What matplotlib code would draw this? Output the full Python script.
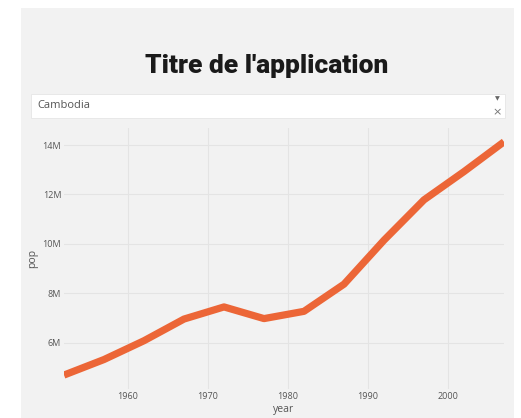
import matplotlib
matplotlib.use("Agg")
import matplotlib.pyplot as plt
from matplotlib.patches import Rectangle
from matplotlib.ticker import FuncFormatter

# gapminder - Cambodia
years = [1952, 1957, 1962, 1967, 1972, 1977, 1982, 1987, 1992, 1997, 2002, 2007]
pop = [4693836, 5322536, 6083619, 6960067, 7450606, 6978607,
       7272485, 8371791, 10150094, 11782962, 12926707, 14131858]
country = "Cambodia"
title = "Titre de l'application"

W, H = 521, 418
fig = plt.figure(figsize=(W / 100, H / 100), dpi=100)
fig.patch.set_facecolor("white")

def px(x0, y0, x1, y1):
    # pixel box -> figure coords
    return [x0 / W, 1 - y1 / H, (x1 - x0) / W, (y1 - y0) / H]

bg = "#f2f2f2"
b = px(21, 8, 514, 418)
fig.patches.append(Rectangle((b[0], b[1]), b[2], b[3], transform=fig.transFigure,
                             facecolor=bg, edgecolor="none", zorder=-5))

fig.text(267 / W, 1 - 66 / H, title, ha="center", va="center",
         fontsize=19, fontweight="black", family="Roboto", color="#1a1a1a")

# dropdown
d = px(31, 94, 505, 118)
fig.patches.append(Rectangle((d[0], d[1]), d[2], d[3], transform=fig.transFigure,
                             facecolor="white", edgecolor="#e6e6e6", lw=0.6, zorder=-4))
fig.text(37 / W, 1 - 105 / H, country, ha="left", va="center", fontsize=8,
         family="Open Sans", color="#555555")
fig.text(497 / W, 1 - 99 / H, "\u25BC", ha="center", va="center", fontsize=4.5,
         color="#666666", family="DejaVu Sans")
fig.text(497 / W, 1 - 112 / H, "\u00D7", ha="center", va="center", fontsize=8,
         color="#777777", family="DejaVu Sans")

ax = fig.add_axes(px(64, 128, 504, 389))
ax.set_facecolor(bg)
ax.plot(years, pop, color="#ec6637", lw=5.2, solid_capstyle="butt", solid_joinstyle="round")
ax.set_xlim(1952, 2007)
ax.set_ylim(4.13e6, 14.69e6)
ax.set_xticks([1960, 1970, 1980, 1990, 2000])
ax.set_yticks([6e6, 8e6, 10e6, 12e6, 14e6])
ax.yaxis.set_major_formatter(FuncFormatter(lambda v, p: f"{int(v / 1e6)}M"))
ax.grid(True, color="#e4e4e4", lw=0.8)
ax.set_axisbelow(True)
for s in ax.spines.values():
    s.set_visible(False)
ax.tick_params(length=0, labelsize=6.5, labelcolor="#555555")
ax.tick_params(axis="x", pad=2)
ax.tick_params(axis="y", pad=2)
for lab in ax.get_xticklabels() + ax.get_yticklabels():
    lab.set_family("Open Sans")
ax.set_xlabel("year", fontsize=7.5, color="#555555", family="Open Sans", labelpad=2)
ax.set_ylabel("pop", fontsize=7.5, color="#555555", family="Open Sans", labelpad=3)

fig.savefig("out.png", dpi=100, facecolor=fig.get_facecolor())
